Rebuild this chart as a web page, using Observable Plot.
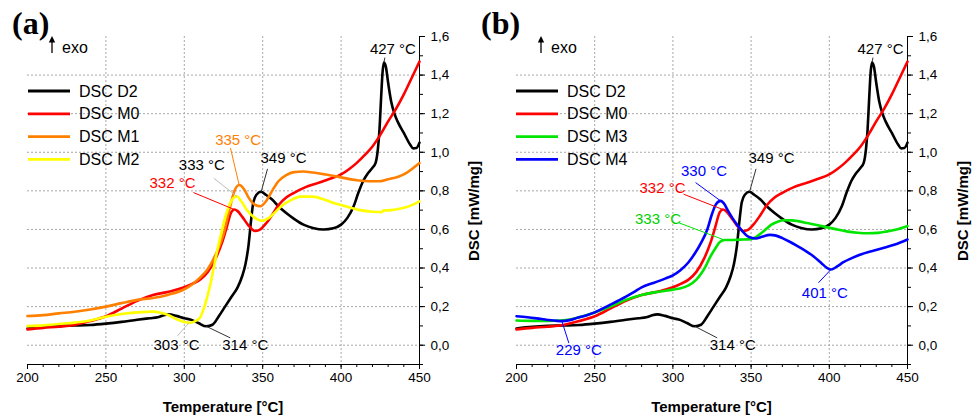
<!DOCTYPE html>
<html>
<head>
<meta charset="utf-8">
<script src="https://cdn.jsdelivr.net/npm/d3@7"></script>
<script src="https://cdn.jsdelivr.net/npm/@observablehq/plot@0.6"></script>
<style>
  html, body { margin: 0; padding: 0; background: #fff; }
  #root { position: relative; width: 979px; height: 417px; overflow: hidden; background: #fff; }
  #root > svg { position: absolute; top: 0; }
  #overlay { position: absolute; left: 0; top: 0; pointer-events: none; }
</style>
</head>
<body>
<div id="root"></div>
<script>
// ---------------- DATA ----------------
const xTicks = [200, 250, 300, 350, 400, 450];
const yTicks = [0, 0.2, 0.4, 0.6, 0.8, 1.0, 1.2, 1.4, 1.6];

const tempD2 = [200,210,220,230,240,250,260,270,278,283,286,290,295,300,305,309,314,318,322,326,330,334,337,339,341,342.5,344,346,349,352,356,360,365,370,376,382,389,395,400,404,408,411,414,417,420,422,423.5,424.5,425.5,426.5,427.3,428.5,430,432,434,436,440,444,446,448,450];
const dscD2  = [0.087,0.095,0.100,0.102,0.105,0.112,0.121,0.132,0.140,0.145,0.153,0.160,0.152,0.140,0.130,0.115,0.098,0.106,0.150,0.200,0.250,0.300,0.360,0.420,0.520,0.640,0.740,0.780,0.795,0.780,0.755,0.720,0.685,0.655,0.625,0.608,0.600,0.606,0.625,0.660,0.720,0.790,0.850,0.890,0.920,0.945,1.020,1.120,1.280,1.420,1.465,1.445,1.360,1.260,1.200,1.160,1.100,1.040,1.020,1.022,1.050];

const tempM0 = [200,210,220,230,240,250,260,270,280,290,300,305,310,315,320,324,327,330,332,334,337,341,345,348,352,356,360,365,370,377,385,392,400,405,410,415,420,425,430,435,440,445,450];
const dscM0  = [0.082,0.090,0.096,0.105,0.125,0.150,0.190,0.230,0.260,0.277,0.300,0.318,0.340,0.380,0.450,0.530,0.610,0.690,0.703,0.695,0.665,0.620,0.592,0.598,0.630,0.675,0.725,0.765,0.790,0.818,0.840,0.860,0.885,0.912,0.945,0.985,1.030,1.090,1.160,1.225,1.300,1.385,1.470];

const tempM1 = [200,210,220,230,240,250,260,270,280,290,300,305,310,315,320,325,329,332,335,338,341,345,348.5,352,356,360,365,370,376,382,390,400,410,418,425,430,436,442,450];
const dscM1  = [0.151,0.156,0.165,0.173,0.185,0.200,0.218,0.235,0.245,0.262,0.290,0.315,0.350,0.395,0.470,0.575,0.710,0.800,0.830,0.810,0.765,0.728,0.720,0.745,0.800,0.850,0.882,0.897,0.900,0.895,0.885,0.870,0.855,0.850,0.850,0.860,0.872,0.895,0.944];

const tempM2 = [200,210,220,230,240,250,260,270,280,285,290,295,300,303,307,310,312,314.5,317,319,321,323,325,328,331,333.5,336,340,345,349.5,354,358,362,368,374,382,390,398,405,412,420,426,427,432,438,444,450];
const dscM2  = [0.099,0.103,0.110,0.117,0.128,0.148,0.162,0.170,0.174,0.168,0.155,0.135,0.120,0.116,0.125,0.142,0.180,0.245,0.330,0.410,0.490,0.560,0.630,0.710,0.760,0.772,0.750,0.700,0.660,0.645,0.660,0.690,0.722,0.752,0.770,0.770,0.752,0.730,0.715,0.700,0.692,0.690,0.698,0.700,0.708,0.722,0.745];

const tempM3 = [200,210,220,228,235,240,250,260,270,280,290,300,305,310,315,318,321,324,327,330,333,337,343,350,353,356,360,363,367,371,376,380,386,392,398,405,411,418,425,431,437,443,450];
const dscM3  = [0.128,0.126,0.126,0.128,0.135,0.145,0.170,0.200,0.235,0.260,0.276,0.288,0.295,0.310,0.340,0.370,0.410,0.460,0.500,0.535,0.545,0.545,0.547,0.550,0.560,0.578,0.605,0.625,0.640,0.648,0.647,0.643,0.633,0.623,0.612,0.600,0.590,0.583,0.580,0.582,0.590,0.600,0.618];

const tempM4 = [200,207,213,220,226,229,234,239,245,250,260,270,275,280,288,295,300,305,310,314,318,322,325,327.5,330.5,333,335,338,341,344,347.5,350,353,357,362,366,370,375,380,385,390,395,398.7,401,405,409,414,420,427,435,442,450];
const dscM4  = [0.150,0.145,0.139,0.131,0.126,0.125,0.130,0.142,0.155,0.170,0.210,0.252,0.275,0.300,0.324,0.345,0.362,0.390,0.430,0.475,0.530,0.600,0.680,0.730,0.748,0.730,0.700,0.660,0.625,0.595,0.566,0.557,0.553,0.562,0.572,0.568,0.555,0.535,0.512,0.488,0.460,0.425,0.400,0.392,0.408,0.430,0.450,0.470,0.487,0.505,0.522,0.548];

const namesA = ["DSC D2", "DSC M0", "DSC M1", "DSC M2"];
const namesB = ["DSC D2", "DSC M0", "DSC M3", "DSC M4"];

// annotations: label, temperature and value of the marked point
const annALabels = ["427 °C", "349 °C", "333 °C", "335 °C", "332 °C", "303 °C", "314 °C"];
const annATemp   = [427.3, 349, 333.5, 335, 332, 303, 314];
const annAValue  = [1.465, 0.795, 0.772, 0.830, 0.703, 0.116, 0.098];

const annBLabels = ["427 °C", "349 °C", "330 °C", "332 °C", "333 °C", "229 °C", "314 °C", "401 °C"];
const annBTemp   = [427.3, 349, 330.5, 332, 333, 229, 314, 401];
const annBValue  = [1.465, 0.795, 0.748, 0.703, 0.545, 0.125, 0.098, 0.392];

// ---------------- STYLE / LAYOUT ----------------
const series = {
  "DSC D2": {T: tempD2, V: dscD2},
  "DSC M0": {T: tempM0, V: dscM0},
  "DSC M1": {T: tempM1, V: dscM1},
  "DSC M2": {T: tempM2, V: dscM2},
  "DSC M3": {T: tempM3, V: dscM3},
  "DSC M4": {T: tempM4, V: dscM4}
};
const colors = {
  "DSC D2": "#000000", "DSC M0": "#ff0000", "DSC M1": "#ff8000",
  "DSC M2": "#ffff00", "DSC M3": "#00e600", "DSC M4": "#0000ff"
};
// pixel offsets from the marked point: leader end, label centre; text colour, leader colour
const layoutA = [
  {lead: [1, -5],    text: [9, -13],   tc: "#000", lc: "#333"},
  {lead: [6.4, -23], text: [22.4, -34], tc: "#000", lc: "#333"},
  {lead: [-23, -18], text: [-35, -31], tc: "#000", lc: "#bdbdbd"},
  {lead: [-8.7, -37], text: [-1, -45], tc: "#ff8000", lc: "#ff8000"},
  {lead: [-41, -17], text: [-62, -26], tc: "#ff0000", lc: "#ff0000"},
  {lead: [-11.5, 13], text: [-12.5, 22], tc: "#000", lc: "#bdbdbd"},
  {lead: [24, 11.6], text: [39, 19],   tc: "#000", lc: "#333"}
];
const layoutB = [
  {lead: [1, -5],    text: [8.5, -13], tc: "#000", lc: "#333"},
  {lead: [6.5, -23], text: [22, -34],  tc: "#000", lc: "#333"},
  {lead: [-25, -18.3], text: [-16.6, -30], tc: "#0000ff", lc: "#0000ff"},
  {lead: [-39.4, -15.4], text: [-60.4, -21.7], tc: "#ff0000", lc: "#ff0000"},
  {lead: [-46, -17.4], text: [-66.5, -21], tc: "#00d000", lc: "#00e600"},
  {lead: [7, 22],    text: [17, 29],   tc: "#0000ff", lc: "#0000ff"},
  {lead: [22.4, 11.6], text: [38, 19], tc: "#000", lc: "#333"},
  {lead: [-12.4, 13.2], text: [-6, 23.5], tc: "#0000ff", lc: "#0000ff"}
];

const fmt = d => d.toFixed(1).replace(".", ",");
const H = 417, MT = 36, MB = 53;
const FONT = "'Liberation Sans', Arial, sans-serif";

function makePanel({left, width, mL, mR, names, labels, temps, values, layout}) {
  const xs = d3.scaleLinear([200, 450], [mL, width - mR]);
  const ys = d3.scaleLinear([-0.1, 1.6], [H - MB, MT]);
  const ann = labels.map((lab, i) => {
    const L = layout[i];
    const px = xs(temps[i]), py = ys(values[i]);
    return {
      lab, T: temps[i], V: values[i],
      lx: xs.invert(px + L.lead[0]), ly: ys.invert(py + L.lead[1]),
      tx: xs.invert(px + L.text[0]), ty: ys.invert(py + L.text[1]),
      tc: L.tc, lc: L.lc
    };
  });
  const lineMarks = names.map(n => {
    const s = series[n];
    const rows = s.T.map((t, i) => ({T: t, v: s.V[i]}));
    return Plot.line(rows, {x: "T", y: "v", stroke: colors[n], strokeWidth: 2.6, curve: "monotone-x"});
  });
  const minorX = d3.range(200, 451, 10);
  const minorY = d3.range(-1, 17).map(k => k / 10);
  const svg = Plot.plot({
    width, height: H,
    marginLeft: mL, marginRight: mR, marginTop: MT, marginBottom: MB,
    x: {domain: [200, 450]},
    y: {domain: [-0.1, 1.6]},
    style: {fontFamily: FONT, fontSize: "13.5px", color: "#000", background: "transparent", overflow: "visible"},
    marks: [
      Plot.gridX({ticks: [250, 300, 350, 400], stroke: "#a8a8a8", strokeOpacity: 1, strokeDasharray: "2,2"}),
      Plot.gridY({ticks: [0, 0.2, 0.4, 0.6, 0.8, 1.0, 1.2, 1.4], stroke: "#a8a8a8", strokeOpacity: 1, strokeDasharray: "2,2"}),
      Plot.axisX({ticks: minorX, tickSize: 3, tickFormat: () => "", label: null}),
      Plot.axisX({ticks: xTicks, tickSize: 5, tickPadding: 3, tickFormat: d => String(d), label: null}),
      Plot.axisY({anchor: "right", ticks: minorY, tickSize: 3, tickFormat: () => "", label: null}),
      Plot.axisY({anchor: "right", ticks: yTicks, tickSize: 5, tickPadding: 6, tickFormat: fmt, label: null}),
      Plot.frame({anchor: "bottom", stroke: "#000"}),
      Plot.frame({anchor: "right", stroke: "#000"}),
      ...lineMarks,
      Plot.link(ann, {x1: "T", y1: "V", x2: "lx", y2: "ly", stroke: d => d.lc, strokeWidth: 1}),
      Plot.text(ann, {x: "tx", y: "ty", text: "lab", fill: d => d.tc, fontSize: 15, textAnchor: "middle", lineAnchor: "middle"})
    ]
  });
  svg.style.left = left + "px";
  return svg;
}

const root = document.getElementById("root");
root.appendChild(makePanel({left: 0, width: 490, mL: 27, mR: 71, names: namesA,
  labels: annALabels, temps: annATemp, values: annAValue, layout: layoutA}));
root.appendChild(makePanel({left: 490, width: 489, mL: 26, mR: 72, names: namesB,
  labels: annBLabels, temps: annBTemp, values: annBValue, layout: layoutB}));

// ---------------- OVERLAY: panel letters, exo, legends, axis titles ----------------
const ov = d3.select(root).append("svg").attr("id", "overlay").attr("width", 979).attr("height", 417);
const panels = [
  {letter: "(a)", lx: 12, ex: 52, legX: 28, names: namesA, xt: 223, yl: 474},
  {letter: "(b)", lx: 481, ex: 541, legX: 516, names: namesB, xt: 711.5, yl: 963}
];
panels.forEach(p => {
  ov.append("text").attr("x", p.lx).attr("y", 34).text(p.letter)
    .attr("font-family", "'Liberation Serif', 'Times New Roman', serif").attr("font-weight", "bold").attr("font-size", 32);
  ov.append("line").attr("x1", p.ex).attr("x2", p.ex).attr("y1", 53).attr("y2", 40).attr("stroke", "#000").attr("stroke-width", 1.3);
  ov.append("path").attr("d", `M${p.ex - 3.2},${42.5} L${p.ex},${36} L${p.ex + 3.2},${42.5} Z`).attr("fill", "#000");
  ov.append("text").attr("x", p.ex + 10).attr("y", 53).text("exo").attr("font-family", FONT).attr("font-size", 16);
  p.names.forEach((n, i) => {
    const y = 91 + i * 22.8;
    ov.append("line").attr("x1", p.legX).attr("x2", p.legX + 42).attr("y1", y).attr("y2", y)
      .attr("stroke", colors[n]).attr("stroke-width", 2.8);
    ov.append("text").attr("x", p.legX + 51).attr("y", y).attr("dy", "0.35em").text(n)
      .attr("font-family", FONT).attr("font-size", 16);
  });
  ov.append("text").attr("x", p.xt).attr("y", 412).attr("text-anchor", "middle").text("Temperature [°C]")
    .attr("font-family", FONT).attr("font-weight", "bold").attr("font-size", 15);
  ov.append("text").attr("transform", `translate(${p.yl},211) rotate(-90)`).attr("text-anchor", "middle")
    .attr("dy", "0.35em").text("DSC [mW/mg]")
    .attr("font-family", FONT).attr("font-weight", "bold").attr("font-size", 15);
});
</script>
</body>
</html>
